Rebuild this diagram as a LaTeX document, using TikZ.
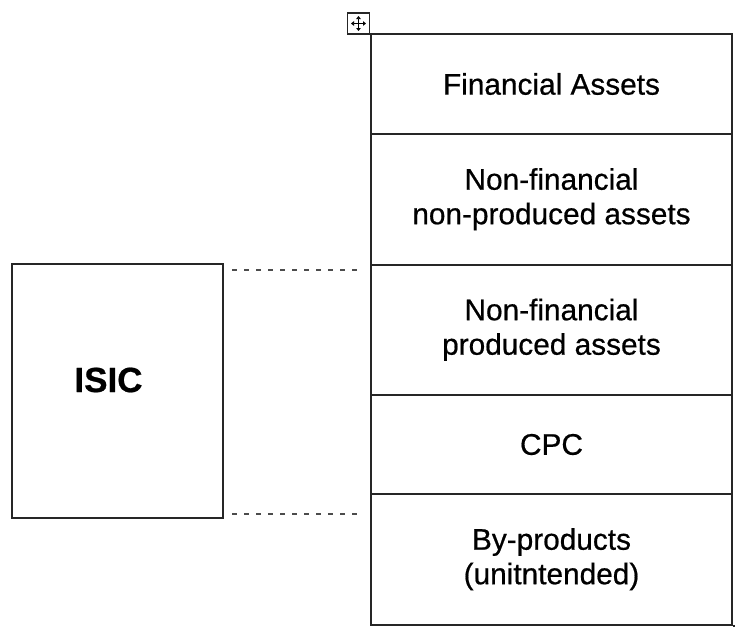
\documentclass[tikz,border=0pt]{standalone}
\usepackage{fontspec}
\setmainfont[FakeBold=0.6]{Liberation Sans}
\usetikzlibrary{arrows.meta,calc}
\begin{document}
\begin{tikzpicture}[x=1pt,y=-1pt,
  frame/.style={draw=black!85, line width=2pt},
  cell/.style={frame, minimum width=361pt, align=center, inner sep=0pt,
    font=\fontsize{29.8}{34.5}\selectfont},
  link/.style={draw=black!70, line width=2pt, dash pattern=on 5pt off 7pt},
  handle/.style={draw=black!85, line width=1.6pt},
  grip tip/.style={{Triangle[length=3pt,width=4.5pt]}-{Triangle[length=3pt,width=4.5pt]}},
]
\useasboundingbox (0,0) rectangle (735,632);

% table of asset categories
\node[cell, minimum height=100pt]   (fin)     at (551.5,84)     {Financial Assets};
\node[cell, minimum height=130.5pt] (nonprod) at (551.5,199.25) {Non-financial\\non-produced assets};
\node[cell, minimum height=130.5pt] (prod)    at (551.5,329.75) {Non-financial\\produced assets};
\node[cell, minimum height=99pt]    (cpc)     at (551.5,444.5)  {CPC};
\node[cell, minimum height=130.5pt] (byp)     at (551.5,559.25) {By-products\\(unitntended)};
\draw[frame] (byp.south east) -- ++(2.5,0);

% table move handle
\node[handle, minimum width=22pt, minimum height=21pt, inner sep=0pt] (grip) at (358.5,23.5) {};
\draw[black, line width=1.2pt, grip tip]
  ($(grip.center)+(-7.5,0)$) -- ($(grip.center)+(7.5,0)$);
\draw[black, line width=1.2pt, grip tip]
  ($(grip.center)+(0,-7.5)$) -- ($(grip.center)+(0,7.5)$);

% ISIC box
\node[frame, minimum width=211pt, minimum height=254pt, inner sep=0pt,
  label={[font=\fontsize{35}{40}\selectfont\bfseries, xshift=-9pt, yshift=11pt]center:ISIC}]
  (isic) at (117.5,391) {};

% correspondence lines
\draw[link] ($(isic.north east)+(8,6.5)$) -- ($(isic.north east -| prod.west)+(-12,6.5)$);
\draw[link] ($(isic.south east)+(8,-5)$) -- ($(isic.south east -| byp.west)+(-12,-5)$);
\end{tikzpicture}
\end{document}
